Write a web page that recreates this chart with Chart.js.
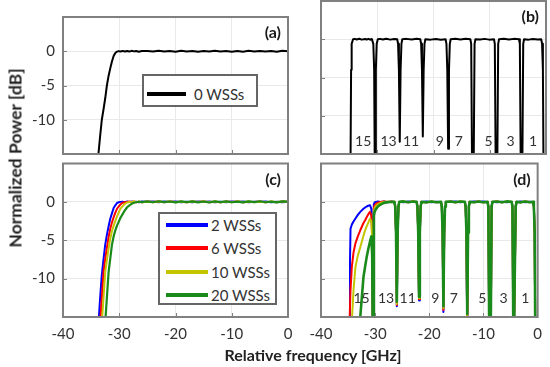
<!DOCTYPE html>
<html>
<head>
<meta charset="utf-8">
<script src="https://cdn.jsdelivr.net/npm/chart.js@4.4.0/dist/chart.umd.min.js"></script>
<style>
  body { margin: 0; background: #fff; }
  #wrap { position: relative; width: 550px; height: 367px; font-family: Lato, sans-serif; color: #333; overflow: hidden; }
  #wrap canvas { position: absolute; left: 0; top: 0; }
  .title { position: absolute; white-space: nowrap; font-weight: bold; font-size: 16px; color: #222; transform: translate(-50%, -50%); }
  .legend { position: absolute; box-sizing: border-box; border: 2px solid #666; background: #fff; z-index: 5; }
  .legend .swatch { position: absolute; height: 4px; }
  .legend .name { position: absolute; font-size: 15px; line-height: 18px; white-space: nowrap; transform: translateY(-50%); }
</style>
</head>
<body>
<div id="wrap">
  <canvas id="pa" width="550" height="367"></canvas>
  <canvas id="pb" width="550" height="367"></canvas>
  <canvas id="pc" width="550" height="367"></canvas>
  <canvas id="pd" width="550" height="367"></canvas>
  <div class="title" style="left:15px; top:158px; font-size:17.5px; transform: translate(-50%, -50%) rotate(-90deg);">Normalized Power [dB]</div>
  <div class="title" style="left:313px; top:354px;">Relative frequency [GHz]</div>
</div>
<script>
// axes
const xTicks = [-40, -30, -20, -10, 0];
const yTicks = [0, -5, -10];

// panels (a) and (c): single channel, frequency in GHz
const freqAC = [-34.0, -33.7, -33.4, -33.1, -32.8, -32.5, -32.2, -31.9, -31.6, -31.3,
  -31.0, -30.7, -30.4, -30.1, -29.8, -29.4, -29.0, -28.6, -28.2, -27.8,
  -27.4, -27.0, -26.5, -26.0, -25, -24, -23, -22, -21, -20,
  -19, -18, -17, -16, -15, -14, -13, -12, -11, -10,
  -9, -8, -7, -6, -5, -4, -3, -2, -1, 0];

const wss0A = [-18, -15, -12.4, -10, -8.5, -6.9, -5, -3.6, -2.5, -1.5,
  -0.7, -0.25, -0.05, 0.02, -0.03, 0.05, -0.04, 0.03, -0.05, 0.06,
  -0.02, 0.04, -0.06, 0.03, 0.05, -0.04, 0.07, -0.05, 0.03, -0.07,
  0.06, -0.03, 0.05, -0.06, 0.04, -0.05, 0.08, -0.04, 0.02, -0.06,
  0.05, -0.07, 0.06, -0.02, 0.05, -0.05, 0.03, -0.06, 0.07, 0.01];

const wss2C = [-19, -16, -12.5, -9.5, -7.5, -5.6, -4.3, -3.2, -2.2, -1.5,
  -0.8, -0.45, -0.15, -0.05, 0, 0.03, -0.04, 0.05, -0.03, 0.04,
  -0.05, 0.03, -0.04, 0.05, -0.03, 0.04, -0.05, 0.06, -0.02, 0.04,
  -0.06, 0.03, -0.04, 0.05, -0.03, 0.06, -0.05, 0.02, -0.04, 0.05,
  -0.03, 0.04, -0.06, 0.03, -0.02, 0.05, -0.04, 0.03, -0.05, 0.02];

const wss6C = [-22, -18.5, -15.8, -12.5, -9.2, -7.5, -6, -4.6, -3.5, -2.7,
  -2.0, -1.4, -0.9, -0.6, -0.35, -0.12, -0.04, 0, 0.04, -0.03,
  0.05, -0.04, 0.03, -0.05, 0.04, -0.03, 0.05, -0.04, 0.06, -0.02,
  0.03, -0.05, 0.04, -0.03, 0.05, -0.06, 0.02, -0.04, 0.05, -0.03,
  0.04, -0.05, 0.03, -0.02, 0.06, -0.04, 0.03, -0.05, 0.04, -0.01];

const wss10C = [-25, -21, -18, -15.8, -12.5, -9.2, -7.6, -6.1, -4.8, -3.8,
  -3.1, -2.5, -1.9, -1.4, -0.9, -0.55, -0.25, -0.08, -0.03, 0,
  0.04, -0.03, 0.05, -0.04, 0.03, -0.05, 0.04, -0.02, 0.05, -0.04,
  0.03, -0.06, 0.04, -0.03, 0.05, -0.02, 0.04, -0.05, 0.03, -0.04,
  0.05, -0.03, 0.04, -0.05, 0.02, -0.04, 0.05, -0.03, 0.04, 0];

const wss20C = [-30, -27, -24, -21, -18, -15.8, -12.5, -9.2, -7.4, -5.6,
  -4.5, -3.7, -3.1, -2.6, -2.1, -1.6, -1.1, -0.7, -0.45, -0.25,
  -0.12, -0.05, 0.02, -0.03, 0.06, -0.05, 0.08, -0.04, 0.05, -0.07,
  0.06, -0.04, 0.07, -0.06, 0.05, -0.08, 0.06, -0.03, 0.07, -0.05,
  0.04, -0.07, 0.06, -0.04, 0.08, -0.05, 0.03, -0.06, 0.07, 0.02];

// panels (b) and (d): 8-channel comb
const freqBD = [-35.0, -34.75, -34.65, -34.55, -34.3, -34.0, -33.64, -33.2, -32.75, -32.16,
  -31.85, -31.57, -31.26, -30.96, -30.7, -30.55, -30.45, -30.35, -30.25, -30.1,
  -29.9, -29.5, -29.0, -28.4, -27.7, -27.0,
  -26.45, -26.3, -26.15, -26.0, -25.85, -25.7, -25.55, -24.8, -23.9, -23.0,
  -22.35, -22.2, -22.05, -21.9, -21.75, -21.6, -21.45, -20.5, -19.6, -18.7,
  -17.85, -17.7, -17.55, -17.4, -17.25, -17.1, -16.95, -16.1, -15.2, -14.3,
  -13.45, -13.3, -13.15, -13.0, -12.85, -12.7, -12.55, -11.7, -10.9, -10.1,
  -9.25, -9.1, -8.95, -8.8, -8.65, -8.5, -8.35, -7.5, -6.6, -5.7,
  -4.8, -4.65, -4.5, -4.35, -4.2, -4.05, -3.9, -3.1, -2.3, -1.5,
  -0.85, -0.7, -0.55, -0.45, 0];

const wss0B = [-16, -16, -4, -0.6, 0, 0.05, -0.04, 0.06, -0.05, 0.04,
  -0.03, 0.05, -0.06, 0.03, -0.6, -4, -16, -16, -4, -0.6,
  0, 0.05, -0.04, 0.06, -0.05, 0.04,
  0, -0.6, -4, -13.4, -4, -0.6, 0, 0.05, -0.04, 0.06,
  0, -0.6, -4, -12.7, -4, -0.6, 0, -0.05, 0.04, -0.06,
  0, -0.6, -4, -14.3, -4, -0.6, 0, 0.05, -0.03, 0.06,
  0, -0.6, -16, -16, -16, -0.6, 0, -0.04, 0.05, -0.05,
  0, -0.6, -16, -16, -16, -0.6, 0, 0.06, -0.04, 0.05,
  0, -0.6, -16, -16, -16, -0.6, 0, -0.05, 0.04, -0.03,
  0, -0.6, -4, -16, -16];

const wss2D = [-16, -16, -8, -3.5, -2.95, -2.55, -2.17, -1.7, -1.3, -0.9,
  -0.73, -0.6, -0.5, -0.43, -0.9, -4, -16, -16, -0.3, -0.08,
  0, 0.04, -0.03, 0.05, -0.04, 0.03,
  0, -0.6, -4, -13.6, -4, -0.6, 0, -0.04, 0.05, -0.03,
  0, -0.6, -4, -12.85, -4, -0.6, 0, 0.04, -0.05, 0.03,
  0, -0.6, -4, -14.35, -4, -0.6, 0, -0.03, 0.05, -0.04,
  0, -0.6, -4, -17, -4, -0.6, 0, 0.04, -0.03, 0.05,
  0, -0.6, -16, -16, -16, -0.6, 0, -0.05, 0.03, -0.04,
  0, -0.6, -16, -16, -16, -0.6, 0, 0.04, -0.05, 0.03,
  0, -0.6, -4, -16, -16];

const wss6D = [-16, -16, -16, -11.5, -8.4, -6.6, -5.4, -4.5, -3.7, -2.75,
  -2.4, -2.0, -1.6, -1.3, -1.8, -4.5, -16, -16, -0.8, -0.45,
  -0.3, -0.1, 0, 0.04, -0.03, 0.05,
  0, -0.6, -4, -13.45, -4, -0.6, 0, 0.03, -0.05, 0.04,
  0, -0.6, -4, -12.7, -4, -0.6, 0, -0.04, 0.03, -0.05,
  0, -0.6, -4, -14.1, -4, -0.6, 0, 0.05, -0.04, 0.03,
  0, -0.6, -4, -16.5, -4, -0.6, 0, -0.03, 0.04, -0.05,
  0, -0.6, -16, -16, -16, -0.6, 0, 0.05, -0.04, 0.03,
  0, -0.6, -16, -16, -16, -0.6, 0, -0.04, 0.05, -0.03,
  0, -0.6, -4, -16, -16];

const wss10D = [-25, -23, -22, -19, -15.5, -11.5, -8.5, -7.0, -5.9, -4.4,
  -3.7, -3.2, -2.7, -2.2, -2.6, -5, -16, -16, -1.2, -0.8,
  -0.55, -0.3, -0.12, -0.02, 0.03, -0.04,
  0, -0.6, -4, -13.3, -4, -0.6, 0, 0.04, -0.03, 0.05,
  0, -0.6, -4, -12.55, -4, -0.6, 0, -0.05, 0.04, -0.03,
  0, -0.6, -4, -13.85, -4, -0.6, 0, 0.03, -0.05, 0.04,
  0, -0.6, -4, -15.4, -4, -0.6, 0, -0.04, 0.03, -0.05,
  0, -0.6, -16, -16, -16, -0.6, 0, 0.03, -0.05, 0.04,
  0, -0.6, -16, -16, -16, -0.6, 0, -0.03, 0.04, -0.05,
  0, -0.6, -4, -16, -16];

const wss20D = [-40, -38, -37, -36, -33, -30, -26, -20.5, -15, -9.8,
  -8.4, -7.2, -6.1, -5.2, -4.5, -7, -16, -16, -1.8, -1.3,
  -1.0, -0.6, -0.35, -0.13, -0.03, 0.02,
  0, -0.6, -4, -13.0, -4, -0.6, 0, 0.06, -0.05, 0.04,
  0, -0.6, -4, -12.4, -4, -0.6, 0, -0.06, 0.05, -0.04,
  0, -0.6, -4, -13.6, -4, -0.6, 0, 0.05, -0.06, 0.04,
  0, -0.6, -4, -14.6, -4, -0.6, 0, -0.05, 0.06, -0.04,
  0, -0.6, -16, -16, -16, -0.6, 0, 0.05, -0.04, 0.06,
  0, -0.6, -16, -16, -16, -0.6, 0, -0.06, 0.04, -0.05,
  0, -0.6, -4, -16, -16];

// channel numbers written inside (b) and (d)
const chanLabels = ['15', '13', '11', '9', '7', '5', '3', '1'];
const chanLabelFreq = [-32.5, -28.0, -24.0, -18.9, -15.5, -10.2, -6.3, -2.3];

const legendA = ['0 WSSs'];
const legendC = ['2 WSSs', '6 WSSs', '10 WSSs', '20 WSSs'];

const W = 550, H = 367;
const BLUE = '#0000ff', RED = '#ff0000', YELLOW = '#c4c400', GREEN = '#1a8a1a';

function xy(xs, ys) {
  return ys.map((y, i) => ({ x: xs[i], y: y }));
}

// box round the plot, inward tick marks, panel tag and channel numbers
const framePlugin = {
  id: 'frame',
  afterDatasetsDraw(chart, args, opts) {
    const ctx = chart.ctx, a = chart.chartArea;
    const sx = chart.scales.x, sy = chart.scales.y;
    ctx.save();
    ctx.strokeStyle = '#808080';
    ctx.lineWidth = 1;
    ctx.beginPath();
    xTicks.slice(1, -1).forEach(v => {
      const px = Math.round(sx.getPixelForValue(v)) + 0.5;
      ctx.moveTo(px, a.bottom);
      ctx.lineTo(px, a.bottom - 4);
    });
    yTicks.forEach(v => {
      const py = Math.round(sy.getPixelForValue(v)) + 0.5;
      ctx.moveTo(a.left, py);
      ctx.lineTo(a.left + 4, py);
    });
    ctx.stroke();
    ctx.lineWidth = 2;
    ctx.strokeRect(a.left, a.top, a.right - a.left, a.bottom - a.top);

    if (opts.chanDb != null) {
      ctx.fillStyle = '#333';
      ctx.font = '14px Lato';
      ctx.textAlign = 'center';
      ctx.textBaseline = 'middle';
      chanLabels.forEach((t, i) => {
        ctx.fillText(t, sx.getPixelForValue(chanLabelFreq[i]), sy.getPixelForValue(opts.chanDb));
      });
    }
    ctx.fillStyle = '#1a1a1a';
    ctx.font = 'bold 16px Lato';
    ctx.textAlign = 'right';
    ctx.textBaseline = 'middle';
    ctx.fillText(opts.tag, a.right - 7, a.top + 16);
    ctx.restore();
  }
};

function makePanel(id, area, datasets, tag, showX, showY, chanDb) {
  const tickFont = { family: 'Lato', size: 15 };
  return new Chart(document.getElementById(id), {
    type: 'line',
    data: { datasets: datasets },
    options: {
      responsive: false,
      animation: false,
      devicePixelRatio: 1,
      layout: {
        autoPadding: false,
        padding: { left: showY ? 0 : area.l, top: area.t, right: W - area.r, bottom: showX ? 0 : H - area.b }
      },
      elements: { point: { radius: 0 }, line: { tension: 0, borderJoinStyle: 'round' } },
      plugins: {
        legend: { display: false },
        tooltip: { enabled: false },
        frame: { tag: tag, chanDb: chanDb }
      },
      scales: {
        x: {
          type: 'linear', min: -40, max: 0,
          afterBuildTicks: s => { s.ticks = xTicks.map(v => ({ value: v })); },
          afterFit: s => { s.height = showX ? H - area.b : 0; },
          grid: { color: '#e9e9e9', drawTicks: false },
          border: { display: false },
          ticks: { display: showX, padding: 8, color: '#333', font: tickFont, maxRotation: 0, autoSkip: false }
        },
        y: {
          type: 'linear', min: -15, max: 5,
          afterBuildTicks: s => { s.ticks = yTicks.map(v => ({ value: v })); },
          afterFit: s => { s.width = showY ? area.l : 0; },
          grid: { color: '#e9e9e9', drawTicks: false },
          border: { display: false },
          ticks: { display: showY, padding: 8, color: '#333', font: tickFont }
        }
      }
    },
    plugins: [framePlugin]
  });
}

function line(xs, ys, color, width, order) {
  return { data: xy(xs, ys), borderColor: color, borderWidth: width, order: order };
}

makePanel('pa', { l: 63, t: 1, r: 288, b: 154 },
  [line(freqAC, wss0A, '#000', 2, 0)], '(a)', false, true, null);

makePanel('pb', { l: 321, t: 1, r: 546, b: 154 },
  [line(freqBD, wss0B, '#000', 2, 0)], '(b)', false, false, -13.4);

makePanel('pc', { l: 63, t: 163.5, r: 288, b: 317 }, [
  line(freqAC, wss2C, BLUE, 2, 3),
  line(freqAC, wss6C, RED, 2, 2),
  line(freqAC, wss10C, YELLOW, 2, 1),
  line(freqAC, wss20C, GREEN, 2.2, 0)
], '(c)', true, true, null);

makePanel('pd', { l: 321, t: 163.5, r: 546, b: 317 }, [
  line(freqBD, wss2D, BLUE, 2, 3),
  line(freqBD, wss6D, RED, 2, 2),
  line(freqBD, wss10D, YELLOW, 2, 1),
  line(freqBD, wss20D, GREEN, 2.6, 0)
], '(d)', true, false, -12.6);

// legends drawn as boxed html inside panels (a) and (c)
function makeLegend(box, names, colors, firstRow, rowGap) {
  const el = document.createElement('div');
  el.className = 'legend';
  el.style.left = box.x + 'px';
  el.style.top = box.y + 'px';
  el.style.width = box.w + 'px';
  el.style.height = box.h + 'px';
  names.forEach((n, i) => {
    const cy = firstRow + i * rowGap;
    const sw = document.createElement('div');
    sw.className = 'swatch';
    sw.style.left = box.swL + 'px';
    sw.style.width = box.swW + 'px';
    sw.style.top = (cy - 2) + 'px';
    sw.style.background = colors[i];
    el.appendChild(sw);
    const tx = document.createElement('div');
    tx.className = 'name';
    tx.style.left = box.txL + 'px';
    tx.style.top = cy + 'px';
    tx.textContent = n;
    el.appendChild(tx);
  });
  document.getElementById('wrap').appendChild(el);
}

makeLegend({ x: 142, y: 74, w: 116, h: 33, swL: 3, swW: 39, txL: 50 }, legendA, ['#000'], 17.5, 0);
makeLegend({ x: 158, y: 212, w: 119, h: 93, swL: 6, swW: 42, txL: 51 }, legendC, [BLUE, RED, YELLOW, GREEN], 11, 23.3);
</script>
</body>
</html>
